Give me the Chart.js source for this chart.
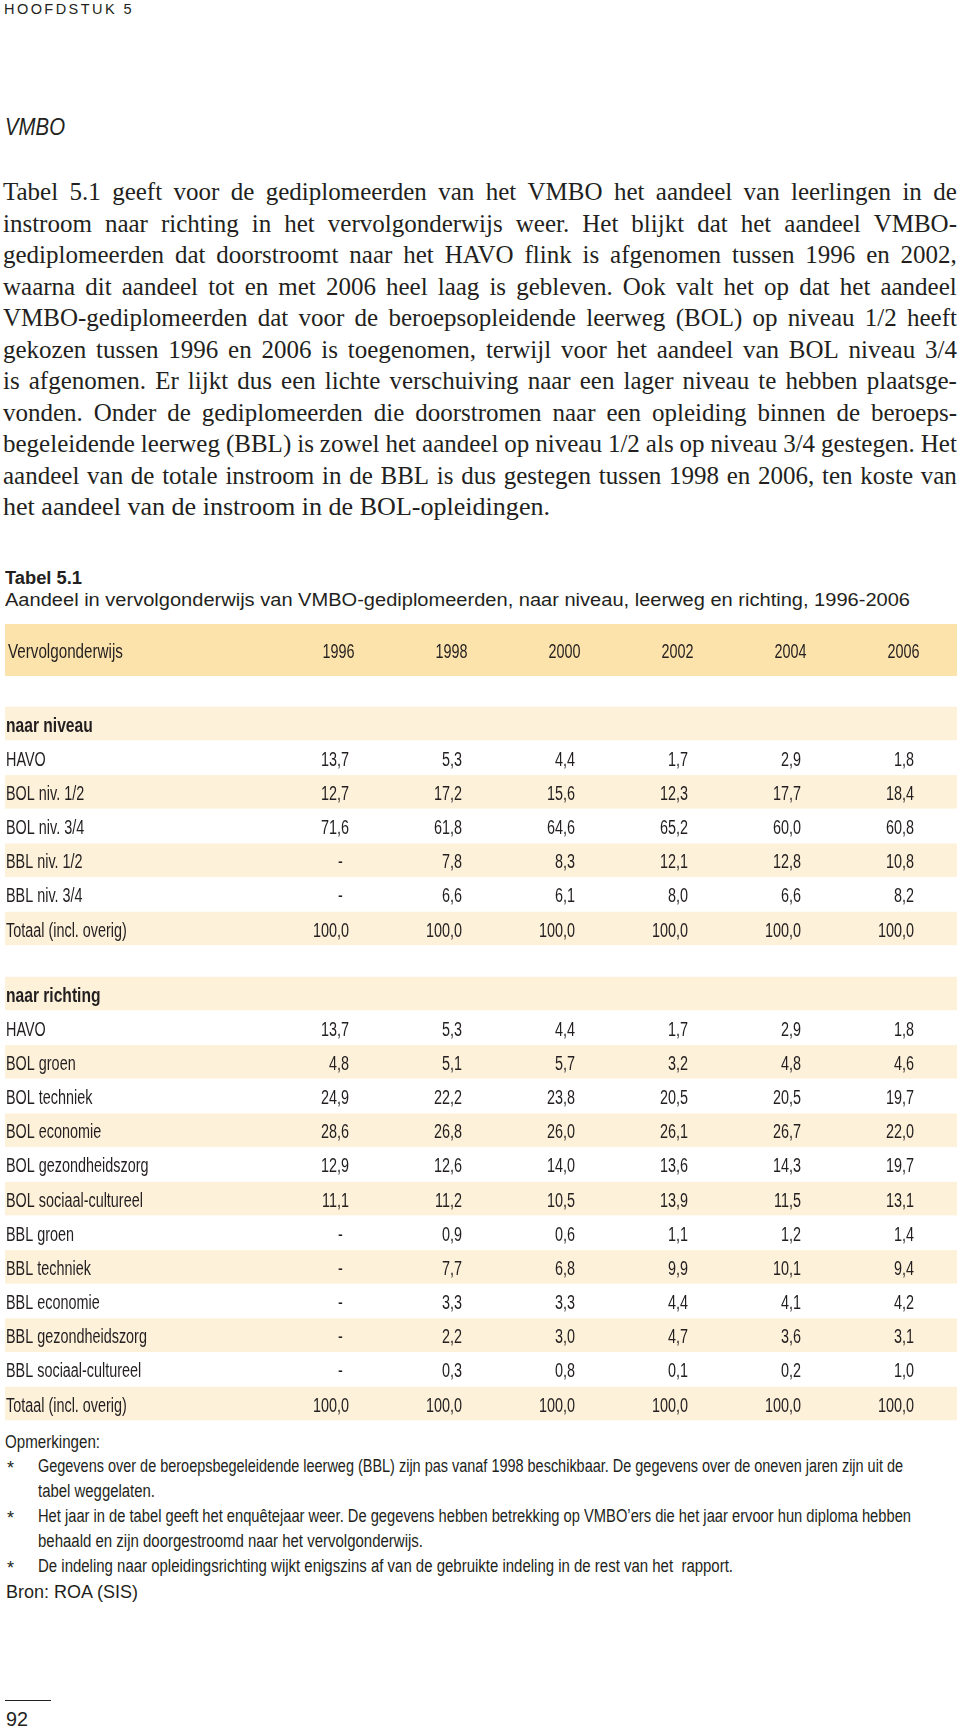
<!DOCTYPE html>
<html lang="nl"><head><meta charset="utf-8">
<script src="https://cdn.jsdelivr.net/npm/chart.js@4.4.0/dist/chart.umd.min.js"></script>
<style>
html,body{margin:0;padding:0;background:#fff;}
body{width:960px;height:1727px;position:relative;overflow:hidden;color:#231f20;}
.t{position:absolute;white-space:nowrap;line-height:30px;transform-origin:0 50%;}
.sans{font-family:"Liberation Sans",Arial,sans-serif;}
.serif{font-family:"Liberation Serif","Times New Roman",serif;font-size:25px;}
.jl{display:flex;justify-content:space-between;align-items:baseline;width:954px;left:3px;}
#tableChart{position:absolute;left:0;top:621px;}
.rule{position:absolute;left:5px;top:1700px;width:46px;height:1px;background:#231f20;}
</style></head>
<body>
<div class="t sans" data-b="14" data-w="130" style="left:4px;font-size:15px;letter-spacing:2.5px;">HOOFDSTUK 5</div>
<div class="t sans" data-b="135" data-w="60" style="left:5px;font-size:24px;font-style:italic;">VMBO</div>

<div class="t serif jl" data-b="200">Tabel 5.1 geeft voor de gediplomeerden van het VMBO het aandeel van leerlingen in de</div>
<div class="t serif jl" data-b="231.5">instroom naar richting in het vervolgonderwijs weer. Het blijkt dat het aandeel VMBO-</div>
<div class="t serif jl" data-b="263">gediplomeerden dat doorstroomt naar het HAVO flink is afgenomen tussen 1996 en 2002,</div>
<div class="t serif jl" data-b="294.5">waarna dit aandeel tot en met 2006 heel laag is gebleven. Ook valt het op dat het aandeel</div>
<div class="t serif jl" data-b="326">VMBO-gediplomeerden dat voor de beroepsopleidende leerweg (BOL) op niveau 1/2 heeft</div>
<div class="t serif jl" data-b="357.5">gekozen tussen 1996 en 2006 is toegenomen, terwijl voor het aandeel van BOL niveau 3/4</div>
<div class="t serif jl" data-b="389">is afgenomen. Er lijkt dus een lichte verschuiving naar een lager niveau te hebben plaatsge-</div>
<div class="t serif jl" data-b="420.5">vonden. Onder de gediplomeerden die doorstromen naar een opleiding binnen de beroeps-</div>
<div class="t serif jl" data-b="452">begeleidende leerweg (BBL) is zowel het aandeel op niveau 1/2 als op niveau 3/4 gestegen. Het</div>
<div class="t serif jl" data-b="483.5">aandeel van de totale instroom in de BBL is dus gestegen tussen 1998 en 2006, ten koste van</div>
<div class="t serif" data-b="515" data-w="547" style="left:3px;">het aandeel van de instroom in de BOL-opleidingen.</div>

<div class="t sans" data-b="584" data-w="77" style="left:5px;font-size:18px;font-weight:bold;">Tabel 5.1</div>
<div class="t sans" data-b="606" data-w="905" style="left:5px;font-size:17.5px;">Aandeel in vervolgonderwijs van VMBO-gediplomeerden, naar niveau, leerweg en richting, 1996-2006</div>

<canvas id="tableChart" width="960" height="803"></canvas>

<div class="t sans" data-b="1448" data-w="95" style="left:5px;font-size:18px;">Opmerkingen:</div>
<div class="t sans" data-b="1474" style="left:7px;font-size:18px;">*</div>
<div class="t sans" data-b="1472" data-w="865" style="left:38px;font-size:18px;">Gegevens over de beroepsbegeleidende leerweg (BBL) zijn pas vanaf 1998 beschikbaar. De gegevens over de oneven jaren zijn uit de</div>
<div class="t sans" data-b="1497" data-w="117" style="left:38px;font-size:18px;">tabel weggelaten.</div>
<div class="t sans" data-b="1524" style="left:7px;font-size:18px;">*</div>
<div class="t sans" data-b="1522" data-w="873" style="left:38px;font-size:18px;">Het jaar in de tabel geeft het enquêtejaar weer. De gegevens hebben betrekking op VMBO’ers die het jaar ervoor hun diploma hebben</div>
<div class="t sans" data-b="1547" data-w="385" style="left:38px;font-size:18px;">behaald en zijn doorgestroomd naar het vervolgonderwijs.</div>
<div class="t sans" data-b="1574" style="left:7px;font-size:18px;">*</div>
<div class="t sans" data-b="1572" data-w="695" style="left:38px;font-size:18px;">De indeling naar opleidingsrichting wijkt enigszins af van de gebruikte indeling in de rest van het&nbsp; rapport.</div>
<div class="t sans" data-b="1598" data-w="132" style="left:6px;font-size:18.5px;">Bron: ROA (SIS)</div>
<div class="rule"></div>
<div class="t sans" data-b="1726" data-w="22" style="left:6px;font-size:20px;">92</div>

<script>
// ---------- data ----------
const years = ['1996', '1998', '2000', '2002', '2004', '2006'];
const headerLabel = 'Vervolgonderwijs';
const sectionTitles = ['naar niveau', 'naar richting'];

const niveauLabels = ['HAVO', 'BOL niv. 1/2', 'BOL niv. 3/4', 'BBL niv. 1/2', 'BBL niv. 3/4', 'Totaal (incl. overig)'];
const nivHAVO   = [13.7, 5.3, 4.4, 1.7, 2.9, 1.8];
const nivBOL12  = [12.7, 17.2, 15.6, 12.3, 17.7, 18.4];
const nivBOL34  = [71.6, 61.8, 64.6, 65.2, 60.0, 60.8];
const nivBBL12  = [null, 7.8, 8.3, 12.1, 12.8, 10.8];
const nivBBL34  = [null, 6.6, 6.1, 8.0, 6.6, 8.2];
const nivTotaal = [100.0, 100.0, 100.0, 100.0, 100.0, 100.0];

const richtingLabels = ['HAVO', 'BOL groen', 'BOL techniek', 'BOL economie', 'BOL gezondheidszorg', 'BOL sociaal-cultureel',
  'BBL groen', 'BBL techniek', 'BBL economie', 'BBL gezondheidszorg', 'BBL sociaal-cultureel', 'Totaal (incl. overig)'];
const richHAVO        = [13.7, 5.3, 4.4, 1.7, 2.9, 1.8];
const richBOLgroen    = [4.8, 5.1, 5.7, 3.2, 4.8, 4.6];
const richBOLtechniek = [24.9, 22.2, 23.8, 20.5, 20.5, 19.7];
const richBOLeconomie = [28.6, 26.8, 26.0, 26.1, 26.7, 22.0];
const richBOLgezond   = [12.9, 12.6, 14.0, 13.6, 14.3, 19.7];
const richBOLsociaal  = [11.1, 11.2, 10.5, 13.9, 11.5, 13.1];
const richBBLgroen    = [null, 0.9, 0.6, 1.1, 1.2, 1.4];
const richBBLtechniek = [null, 7.7, 6.8, 9.9, 10.1, 9.4];
const richBBLeconomie = [null, 3.3, 3.3, 4.4, 4.1, 4.2];
const richBBLgezond   = [null, 2.2, 3.0, 4.7, 3.6, 3.1];
const richBBLsociaal  = [null, 0.3, 0.8, 0.1, 0.2, 1.0];
const richTotaal      = [100.0, 100.0, 100.0, 100.0, 100.0, 100.0];

// ---------- layout of rows (row units on a linear y scale) ----------
const niveauValues = [nivHAVO, nivBOL12, nivBOL34, nivBBL12, nivBBL34, nivTotaal];
const richtingValues = [richHAVO, richBOLgroen, richBOLtechniek, richBOLeconomie, richBOLgezond, richBOLsociaal,
  richBBLgroen, richBBLtechniek, richBBLeconomie, richBBLgezond, richBBLsociaal, richTotaal];
const HEADER_POS = -2.151, HEADER_HALF = 0.761, SECTION2 = 7.902;
const rows = [];
function addSection(title, labels, values, start) {
  rows.push({ label: title, pos: start, section: true, k: 0 });
  labels.forEach((l, i) => rows.push({ label: l, values: values[i], pos: start + i + 1, k: i + 1 }));
}
addSection(sectionTitles[0], niveauLabels, niveauValues, 0);
addSection(sectionTitles[1], richtingLabels, richtingValues, SECTION2);

const fmt = v => v === null ? '-' : v.toFixed(1).replace('.', ',');
const dataRows = rows.filter(r => r.values);
const datasets = dataRows.map(r => ({
  label: r.label,
  data: r.values.map((v, i) => ({ x: years[i], y: r.pos, v: v })),
  showLine: false, pointRadius: 0, borderWidth: 0
}));

const TXT = '#231f20', HEAD_BG = '#fce3ab', STRIPE_BG = '#fdf1d9';
function txt(ctx, s, x, y, align, font, sx) {
  ctx.save();
  ctx.font = font; ctx.fillStyle = TXT; ctx.textAlign = align; ctx.textBaseline = 'alphabetic';
  ctx.translate(x, y); ctx.scale(sx, 1); ctx.fillText(s, 0, 0);
  ctx.restore();
}
const F = '20px "Liberation Sans", Arial, sans-serif';
const FB = 'bold 20px "Liberation Sans", Arial, sans-serif';
const SX = 0.72, BASE = 8;

const tablePlugin = {
  id: 'tableCells',
  beforeDatasetsDraw(chart) {
    const ctx = chart.ctx, ys = chart.scales.y, L = 5, R = chart.chartArea.right - 3;
    ctx.save();
    ctx.fillStyle = HEAD_BG;
    let t = ys.getPixelForValue(HEADER_POS - HEADER_HALF), b = ys.getPixelForValue(HEADER_POS + HEADER_HALF);
    ctx.fillRect(L, t, R - L, b - t);
    ctx.fillStyle = STRIPE_BG;
    rows.forEach(r => {
      if (r.k % 2 === 0) {
        t = ys.getPixelForValue(r.pos - 0.49); b = ys.getPixelForValue(r.pos + 0.49);
        ctx.fillRect(L, t, R - L, b - t);
      }
    });
    ctx.restore();
  },
  afterDatasetsDraw(chart) {
    const ctx = chart.ctx, xs = chart.scales.x, ys = chart.scales.y;
    const hy = ys.getPixelForValue(HEADER_POS) + BASE;
    txt(ctx, headerLabel, 8, hy, 'left', F, 0.76);
    years.forEach((yr, i) => txt(ctx, yr, xs.getPixelForValue(i), hy, 'center', F, SX));
    rows.forEach(r => {
      const y = ys.getPixelForValue(r.pos) + BASE;
      if (r.section) txt(ctx, r.label, 6, y, 'left', FB, 0.78);
      else txt(ctx, r.label, 6, y, 'left', F, SX);
    });
    chart.data.datasets.forEach((ds, d) => {
      const meta = chart.getDatasetMeta(d);
      meta.data.forEach((pt, i) => {
        const v = ds.data[i].v;
        if (v === null) txt(ctx, '-', pt.x + 2, pt.y + BASE, 'center', F, SX);
        else txt(ctx, fmt(v), pt.x + 10.5, pt.y + BASE, 'right', F, SX);
      });
    });
  }
};

new Chart(document.getElementById('tableChart'), {
  type: 'line',
  data: { labels: years, datasets: datasets },
  options: {
    responsive: false, animation: false, events: [],
    layout: { padding: { left: 282, right: 0, top: 0, bottom: 0 } },
    plugins: { legend: { display: false }, tooltip: { enabled: false } },
    scales: {
      x: { type: 'category', labels: years, offset: true, display: false },
      y: { type: 'linear', min: -3, max: 20.5, reverse: true, display: false }
    }
  },
  plugins: [tablePlugin]
});

// ---------- page text placement ----------
document.querySelectorAll('.jl').forEach(el => {
  const words = el.textContent.trim().split(/\s+/);
  el.textContent = '';
  words.forEach(w => { const s = document.createElement('span'); s.textContent = w; el.appendChild(s); });
});
document.querySelectorAll('[data-b]').forEach(el => {
  el.style.top = '0px';
  const m = document.createElement('span');
  m.style.cssText = 'display:inline-block;width:0;height:0;vertical-align:baseline;';
  const host = el.classList.contains('jl') ? el.firstChild : el;
  host.insertBefore(m, host.firstChild);
  const off = m.getBoundingClientRect().bottom - el.getBoundingClientRect().top;
  el.style.top = (parseFloat(el.dataset.b) - off) + 'px';
  m.remove();
});
document.querySelectorAll('[data-w]').forEach(el => {
  const nat = el.getBoundingClientRect().width;
  el.style.transform = 'scaleX(' + (parseFloat(el.dataset.w) / nat) + ')';
});
document.querySelectorAll('.jl').forEach(el => {
  let sum = 0; const kids = Array.from(el.children);
  kids.forEach(c => sum += c.getBoundingClientRect().width);
  const need = sum + (kids.length - 1) * 5.5, target = 954;
  if (need > target) {
    const s = target / need;
    el.style.width = (target / s) + 'px';
    el.style.transform = 'scaleX(' + s + ')';
  }
});
</script>
</body></html>
